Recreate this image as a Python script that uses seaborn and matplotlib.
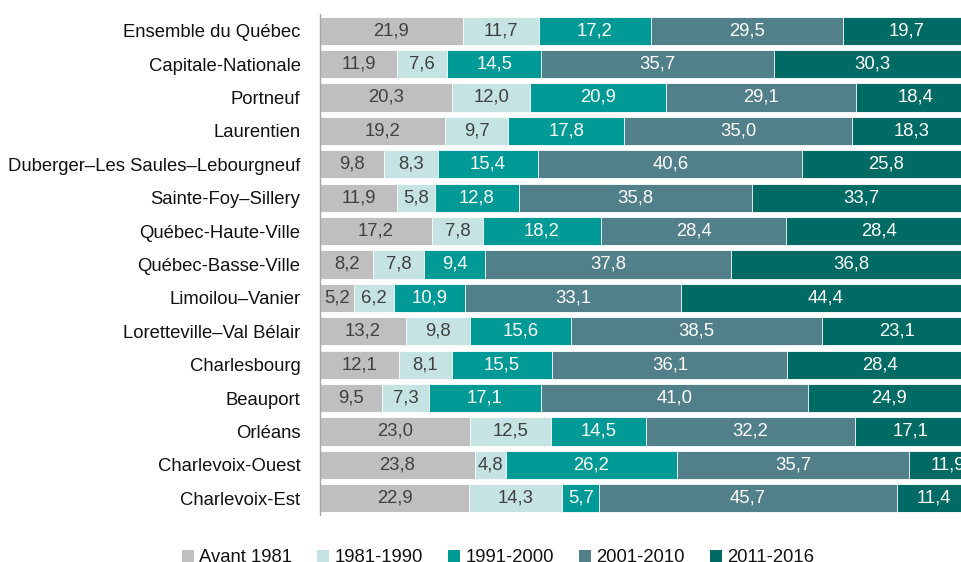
import matplotlib
matplotlib.use("Agg")
import matplotlib.pyplot as plt
import seaborn as sns
import pandas as pd
import numpy as np
from matplotlib.patches import Patch

regions = ["Ensemble du Québec", "Capitale-Nationale", "Portneuf", "Laurentien",
           "Duberger–Les Saules–Lebourgneuf", "Sainte-Foy–Sillery", "Québec-Haute-Ville",
           "Québec-Basse-Ville", "Limoilou–Vanier", "Loretteville–Val Bélair",
           "Charlesbourg", "Beauport", "Orléans", "Charlevoix-Ouest", "Charlevoix-Est"]
periods = ["Avant 1981", "1981-1990", "1991-2000", "2001-2010", "2011-2016"]
avant_1981 = [21.9, 11.9, 20.3, 19.2, 9.8, 11.9, 17.2, 8.2, 5.2, 13.2, 12.1, 9.5, 23.0, 23.8, 22.9]
p_1981_1990 = [11.7, 7.6, 12.0, 9.7, 8.3, 5.8, 7.8, 7.8, 6.2, 9.8, 8.1, 7.3, 12.5, 4.8, 14.3]
p_1991_2000 = [17.2, 14.5, 20.9, 17.8, 15.4, 12.8, 18.2, 9.4, 10.9, 15.6, 15.5, 17.1, 14.5, 26.2, 5.7]
p_2001_2010 = [29.5, 35.7, 29.1, 35.0, 40.6, 35.8, 28.4, 37.8, 33.1, 38.5, 36.1, 41.0, 32.2, 35.7, 45.7]
p_2011_2016 = [19.7, 30.3, 18.4, 18.3, 25.8, 33.7, 28.4, 36.8, 44.4, 23.1, 28.4, 24.9, 17.1, 11.9, 11.4]

colors = ["#BFBFBF", "#C5E3E3", "#009A96", "#517F8A", "#006A64"]
text_colors = ["#404040", "#404040", "white", "white", "white"]

series = [avant_1981, p_1981_1990, p_1991_2000, p_2001_2010, p_2011_2016]
vals = np.array(series)
cum = np.cumsum(vals, axis=0)
starts = cum - vals

sns.set_theme(style="white")
plt.rcParams["font.family"] = ["Liberation Sans", "DejaVu Sans"]

fig = plt.figure(figsize=(9.62, 5.62), dpi=100)
ax = fig.add_axes([320/962, 1-515/562, (962-320)/962, (515-14)/562])

# draw stacked bars as overlapping cumulative bars (largest first)
for i in range(len(periods)-1, -1, -1):
    df = pd.DataFrame({"region": regions, "value": cum[i]})
    sns.barplot(data=df, x="value", y="region", orient="h", color=colors[i],
                saturation=1, width=0.84, edgecolor="white", linewidth=0.6, ax=ax)

for i in range(len(periods)):
    for j, r in enumerate(regions):
        c = starts[i, j] + vals[i, j] / 2
        ax.text(c, j, f"{vals[i, j]:.1f}".replace(".", ","), ha="center", va="center",
                fontsize=13.3, color=text_colors[i])

ax.set_xlim(0, (962-320)/6.51)
ax.set_ylim(len(regions)-0.5, -0.5)
ax.set_xlabel("")
ax.set_ylabel("")
ax.set_xticks([])
ax.tick_params(axis="y", which="major", length=0, labelsize=13.3, labelcolor="#111111", pad=14)
ax.set_yticks(np.arange(-0.5, len(regions), 1), minor=True)
ax.tick_params(axis="y", which="minor", length=7, width=1, color="#A6A6A6", direction="out")
for s in ["top", "right", "bottom"]:
    ax.spines[s].set_visible(False)
ax.spines["left"].set_color("#A6A6A6")
ax.spines["left"].set_linewidth(1)

handles = [Patch(facecolor=c, edgecolor="none") for c in colors]
leg = fig.legend(handles, periods, loc="center", bbox_to_anchor=(498/962, 1-558/562), ncol=5,
                 frameon=False, fontsize=13.3, handlelength=0.65, handleheight=0.65,
                 handletextpad=0.3, columnspacing=1.35, borderpad=0, borderaxespad=0)
for t in leg.get_texts():
    t.set_color("#111111")

fig.savefig("out.png", dpi=100)
